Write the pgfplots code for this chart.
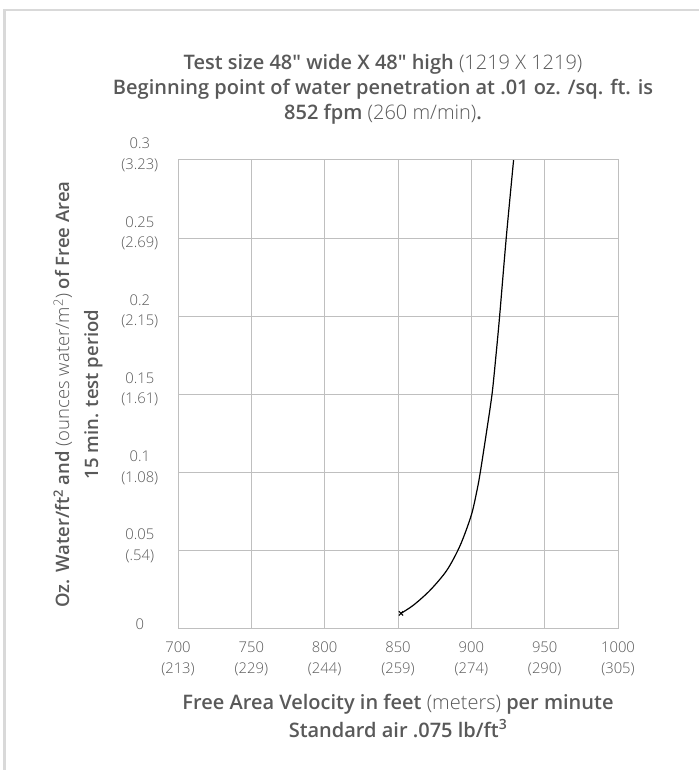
\documentclass[border=0pt]{standalone}
\usepackage{fontspec}
\setmainfont{Open Sans}[BoldFont={Open Sans Semibold}]
\newfontfamily\lightfont{Open Sans Light}
\usepackage{pgfplots}
\pgfplotsset{compat=1.18}
\definecolor{txt}{HTML}{595959}
\definecolor{gridc}{HTML}{BFBFBF}
\definecolor{framec}{HTML}{D9D9D9}

\begin{document}
\begin{tikzpicture}[x=1pt,y=1pt]
\useasboundingbox (0,0) rectangle (699,770);
\draw[framec, line width=2.5pt] (4.5,0) -- (4.5,760) -- (699,760);
\begin{axis}[
  at={(178pt,141pt)}, anchor=south west,
  scale only axis, width=440pt, height=469pt,
  xmin=700, xmax=1000, ymin=0, ymax=0.3,
  xtick={700,750,800,850,900,950,1000},
  ytick={0,0.05,0.1,0.15,0.2,0.25,0.3},
  xticklabels={{700\\(213)},{750\\(229)},{800\\(244)},{850\\(259)},{900\\(274)},{950\\(290)},{1000\\(305)}},
  yticklabels={0,{0.05\\(.54)},{0.1\\(1.08)},{0.15\\(1.61)},{0.2\\(2.15)},{0.25\\(2.69)},{0.3\\(3.23)}},
  grid=major, grid style={gridc, line width=1pt},
  axis line style={gridc, line width=1pt},
  major tick length=0pt,
  tick label style={font=\lightfont\fontsize{14.8}{20.5}\selectfont, text=txt, align=center},
  x tick label style={inner sep=0pt, yshift=-13pt},
  y tick label style={inner sep=0pt, text width=44pt, anchor=east, xshift=-16pt, yshift=5pt},
  title style={at={(axis description cs:0.466,1.1386)}, anchor=center, align=center,
    font=\fontsize{20}{25}\selectfont, text=txt},
  title={\textbf{Test size 48″ wide X 48″ high} {\lightfont(1219 X 1219)}\\
    \textbf{Beginning point of water penetration at .01 oz. /sq. ft. is}\\
    \textbf{852 fpm} {\lightfont(260 m/min)}\textbf{.}},
  xlabel style={at={(axis description cs:0.5,-0.1855)}, anchor=center, align=center,
    font=\fontsize{20}{28}\selectfont, text=txt},
  xlabel={\textbf{Free Area Velocity in feet} {\lightfont(meters)} \textbf{per minute}\\
    \textbf{Standard air .075 lb/ft\textsuperscript{3}}},
  ylabel style={at={(axis description cs:-0.227,0.5)}, anchor=center, align=center,
    font=\fontsize{18.5}{29}\selectfont, text=txt},
  ylabel={\textbf{Oz. Water/ft\textsuperscript{2} and} {\lightfont(ounces water/m\textsuperscript{2})} \textbf{of Free Area}\\
    \textbf{15 min. test period}},
]
\addplot[black, line width=1.2pt, smooth, mark=x, mark indices={1}, mark size=3pt,
  mark options={line width=1pt}] coordinates {
  (852,0.010) (860.6,0.0153) (872,0.0249) (883.4,0.0377) (892.5,0.0537)
  (900,0.0729) (903.9,0.0889) (906.1,0.1002) (910.2,0.1251) (914.1,0.1501)
  (916.8,0.175) (919.3,0.2003) (923.8,0.2502) (928.8,0.2999)
};
\end{axis}
\end{tikzpicture}
\end{document}
